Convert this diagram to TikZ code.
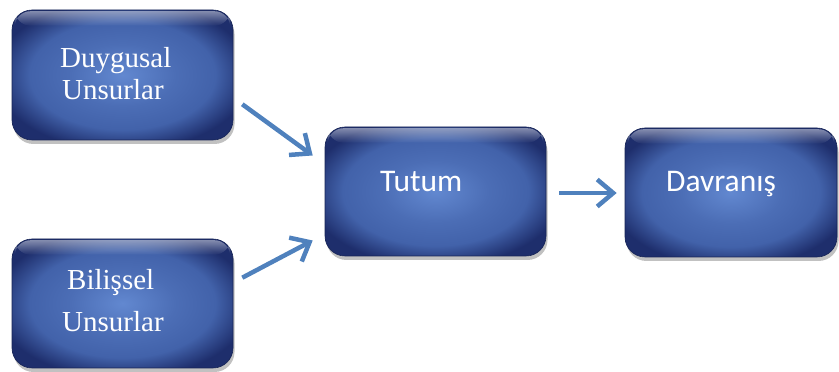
\documentclass[tikz,border=0pt]{standalone}
\usepackage{fontspec}
\usetikzlibrary{calc,shadows,arrows.meta,fadings}
\newfontfamily\boxserif{Liberation Serif}
\newfontfamily\boxsans{Carlito}

\definecolor{boxlight}{RGB}{98,136,208}
\definecolor{boxmid}{RGB}{66,98,170}
\definecolor{boxdark}{RGB}{30,46,108}
\definecolor{arrowblue}{RGB}{79,129,189}

\pgfdeclareradialshading{boxglow}{\pgfpoint{0bp}{0bp}}{%
  color(0bp)=(boxlight); color(12bp)=(boxmid!70!boxlight);
  color(21bp)=(boxmid); color(29bp)=(boxdark); color(50bp)=(boxdark)}

\tikzfading[name=topglow, top color=transparent!55, bottom color=transparent!100]

\tikzset{
  box/.style={rounded corners=20pt, inner sep=0pt, shading=boxglow,
    draw=boxdark!80!black, line width=0.6pt,
    drop shadow={shadow xshift=1.5pt, shadow yshift=-4pt, opacity=0.35, fill=black!70}},
  serifText/.style={text=white, font=\boxserif\fontsize{29}{33}\selectfont, inner sep=0pt},
  sansText/.style={text=white, font=\boxsans\fontsize{31.5}{36}\selectfont, inner sep=0pt},
  flow/.style={draw=arrowblue, line width=4.5pt,
    -{Straight Barb[length=16pt,width=27pt]}},
}

\begin{document}
\begin{tikzpicture}[x=1pt,y=1pt]
  \useasboundingbox (0,0) rectangle (839,372);

  % boxes
  \node[box, minimum width=221pt, minimum height=130pt] (duy) at (122.5,297) {};
  \node[box, minimum width=221pt, minimum height=129pt] (bil) at (122.5,68.5) {};
  \node[box, minimum width=221pt, minimum height=129pt] (tutum) at (435.5,180.5) {};
  \node[box, minimum width=212pt, minimum height=129pt] (dav) at (731,179.5) {};

  % soft light along the top edge of each box
  \foreach \b in {duy,bil,tutum,dav} {
    \path[fill=white, path fading=topglow, rounded corners=16pt]
      ($(\b.north west)+(3,-1.5)$) -- ($(\b.north east)+(-3,-1.5)$)
      -- ($(\b.north east)+(-3,-16)$) -- ($(\b.north west)+(3,-16)$) -- cycle;
  }

  % labels
  \node[serifText, anchor=base west] (duy1) at (60,304) {Duygusal};
  \node[serifText, anchor=base west] (duy2) at (62,272) {Unsurlar};
  \node[serifText, anchor=base west] (bil1) at (67,82) {Bilişsel};
  \node[serifText, anchor=base west] (bil2) at (62,40) {Unsurlar};
  \node[sansText, anchor=base west] (tut) at (380,180) {Tutum};
  \node[sansText, anchor=base west] (davT) at (666,180) {Davranış};

  % connectors
  \draw[flow] ($(duy.south east)+(9,36)$) -- ($(tutum.west)+(-12,36)$);
  \draw[flow] ($(bil.north east)+(9,-39)$) -- ($(tutum.west)+(-12,-49)$);
  \draw[flow] ($(tutum.east)+(13,-1.5)$) -- ($(dav.west)+(-8,-0.5)$);
\end{tikzpicture}
\end{document}
